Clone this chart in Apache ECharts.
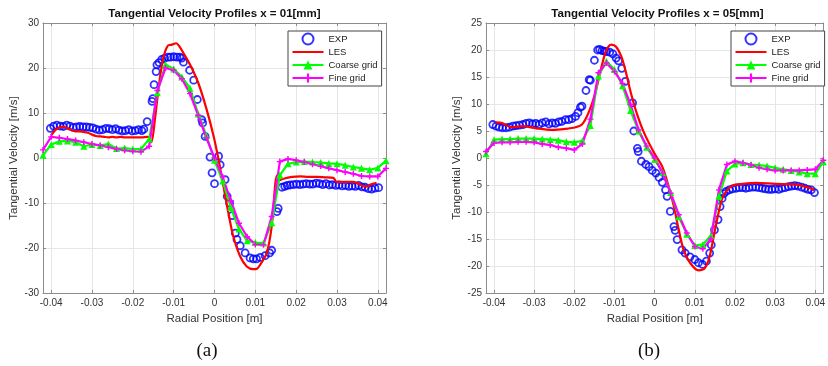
<!DOCTYPE html>
<html>
<head>
<meta charset="utf-8">
<script src="https://cdn.jsdelivr.net/npm/echarts@6/dist/echarts.min.js"></script>
<style>
  html, body { margin: 0; padding: 0; background: #fff; }
  #main { width: 828px; height: 366px; }
</style>
</head>
<body>
<div id="main"></div>
<script>
// x positions of the simulation points (coarse + fine grid), in metres
const gridX = [-0.042, -0.040, -0.038, -0.036, -0.034, -0.032, -0.030, -0.028, -0.026, -0.024, -0.022,
  -0.020, -0.018, -0.016, -0.014, -0.012, -0.010, -0.008, -0.006, -0.004, -0.002, 0.000,
  0.002, 0.004, 0.006, 0.008, 0.010, 0.012, 0.014, 0.016, 0.018, 0.020, 0.022,
  0.024, 0.026, 0.028, 0.030, 0.032, 0.034, 0.036, 0.038, 0.040, 0.042]

// ---- (a) x = 01 mm ----
const coarseA = [0.6, 3.0, 3.7, 3.8, 3.5, 2.6, 3.0, 2.8, 3.1, 2.1, 2.2,
  2.0, 2.0, 4.2, 14.5, 20.8, 19.8, 18.0, 15.5, 9.8, 5.0, -0.5,
  -5.1, -11.0, -15.8, -18.4, -18.8, -18.9, -14.4, -3.8, -1.3, -0.9, -0.8,
  -0.9, -1.0, -1.2, -1.3, -1.6, -2.0, -2.3, -2.6, -2.2, -0.6]
const fineA = [1.8, 4.7, 4.5, 4.2, 3.9, 3.5, 3.1, 2.8, 2.4, 2.0, 1.7,
  1.5, 1.4, 2.6, 15.0, 20.0, 19.5, 17.6, 14.3, 9.5, 4.5, 0.0,
  -4.2, -9.5, -14.5, -17.5, -19.2, -19.3, -13.0, -0.8, -0.2, -0.5, -0.9,
  -1.4, -1.8, -2.3, -2.7, -3.1, -3.5, -4.0, -4.1, -4.1, -2.3]
const lesA = [[-0.0400, 5.0], [-0.0390, 6.2], [-0.0380, 6.8], [-0.0370, 6.9], [-0.0360, 6.6], [-0.0350, 6.2],
  [-0.0340, 5.9], [-0.0330, 5.9], [-0.0320, 5.8], [-0.0310, 5.6], [-0.0300, 5.2], [-0.0290, 4.9],
  [-0.0280, 4.8], [-0.0270, 4.7], [-0.0260, 4.6], [-0.0250, 4.7], [-0.0240, 4.6], [-0.0230, 4.7],
  [-0.0220, 4.6], [-0.0200, 4.6], [-0.0180, 4.6], [-0.0163, 4.7], [-0.0155, 3.5], [-0.0146, 8.5],
  [-0.0137, 15.5], [-0.0126, 22.0], [-0.0114, 25.0], [-0.0104, 25.2], [-0.0094, 25.5], [-0.0086, 24.8],
  [-0.0076, 23.3], [-0.0059, 20.6], [-0.0039, 16.5], [-0.0019, 10.7], [-0.0002, 4.8], [0.0010, -0.4],
  [0.0022, -6.3], [0.0034, -12.2], [0.0046, -17.4], [0.0063, -21.9], [0.0079, -24.1], [0.0095, -24.7],
  [0.0104, -24.6], [0.0112, -23.7], [0.0128, -21.1], [0.0140, -15.2], [0.0149, -5.6], [0.0153, -3.9],
  [0.0158, -5.0], [0.0169, -4.6], [0.0190, -4.2], [0.0210, -4.1], [0.0230, -4.2], [0.0250, -4.2],
  [0.0270, -4.3], [0.0291, -4.4], [0.0299, -5.3], [0.0320, -5.3], [0.0340, -5.3], [0.0355, -5.8],
  [0.0365, -6.3], [0.0375, -6.3], [0.0382, -5.9], [0.0397, -5.5]]
const expA = [[-0.0402, 6.6], [-0.0394, 7.1], [-0.0386, 7.3], [-0.0378, 7.1], [-0.0370, 7.0], [-0.0362, 7.3],
  [-0.0354, 7.1], [-0.0346, 6.8], [-0.0338, 6.9], [-0.0330, 7.0], [-0.0322, 6.9], [-0.0314, 6.9],
  [-0.0306, 6.8], [-0.0298, 6.7], [-0.0290, 6.4], [-0.0282, 6.2], [-0.0274, 6.3], [-0.0266, 6.6],
  [-0.0258, 6.5], [-0.0250, 6.3], [-0.0242, 6.5], [-0.0234, 6.2], [-0.0226, 6.0], [-0.0218, 6.1],
  [-0.0210, 6.3], [-0.0202, 6.0], [-0.0194, 6.1], [-0.0186, 6.3], [-0.0178, 6.1], [-0.0173, 6.4],
  [-0.0165, 8.1], [-0.0153, 12.6], [-0.0151, 13.2], [-0.0148, 16.3], [-0.0143, 19.2], [-0.0141, 20.7],
  [-0.0136, 21.2], [-0.0129, 21.9], [-0.0122, 22.2], [-0.0114, 22.4], [-0.0108, 22.4], [-0.0100, 22.5],
  [-0.0092, 22.4], [-0.0085, 22.4], [-0.0080, 22.2], [-0.0076, 21.3], [-0.0061, 19.5], [-0.0051, 17.3],
  [-0.0042, 13.0], [-0.0031, 8.5], [-0.0029, 7.8], [-0.0023, 4.8], [-0.0011, 0.2], [-0.0006, -3.3],
  [0.0000, -5.7], [0.0010, 0.4], [0.0014, -1.5], [0.0026, -4.8], [0.0031, -8.5], [0.0037, -10.0],
  [0.0043, -12.8], [0.0051, -16.7], [0.0055, -18.1], [0.0063, -19.5], [0.0075, -21.1], [0.0087, -22.2],
  [0.0095, -22.4], [0.0103, -22.4], [0.0112, -22.1], [0.0124, -21.7], [0.0135, -21.1], [0.0140, -20.5],
  [0.0153, -11.9], [0.0156, -11.2], [0.0165, -6.5], [0.0172, -6.3], [0.0178, -6.1], [0.0185, -6.0],
  [0.0193, -5.9], [0.0201, -5.8], [0.0209, -5.9], [0.0217, -5.8], [0.0225, -5.7], [0.0233, -5.8],
  [0.0241, -5.8], [0.0249, -5.6], [0.0257, -5.7], [0.0265, -5.9], [0.0273, -5.7], [0.0281, -6.0],
  [0.0289, -5.9], [0.0297, -6.1], [0.0305, -6.0], [0.0313, -6.2], [0.0321, -6.1], [0.0329, -6.3],
  [0.0337, -6.2], [0.0345, -6.3], [0.0353, -6.1], [0.0361, -6.4], [0.0369, -6.5], [0.0377, -6.8],
  [0.0385, -6.9], [0.0393, -6.7], [0.0402, -6.6]]

// ---- (b) x = 05 mm ----
const coarseB = [0.8, 3.4, 3.5, 3.5, 3.6, 3.6, 3.6, 3.5, 3.4, 3.3, 3.0,
  2.9, 3.2, 6.0, 15.2, 17.9, 16.4, 13.4, 8.8, 5.0, 2.0, -0.3,
  -2.7, -6.4, -10.9, -14.1, -16.2, -16.0, -14.4, -7.1, -2.4, -1.1, -0.9,
  -1.2, -1.3, -1.5, -1.8, -2.1, -2.3, -2.6, -2.9, -2.9, -0.7]
const fineB = [1.2, 2.8, 2.9, 2.9, 3.0, 3.0, 2.9, 2.6, 2.4, 2.0, 1.8,
  1.5, 2.6, 7.2, 15.8, 17.6, 16.0, 13.8, 9.9, 5.2, 2.2, 0.0,
  -2.8, -6.5, -10.5, -13.9, -16.4, -16.8, -15.0, -5.9, -1.2, -0.6, -0.9,
  -1.3, -1.8, -2.1, -2.3, -2.3, -2.3, -2.3, -2.2, -2.1, -0.4]
const lesB = [[-0.0397, 6.6], [-0.0381, 6.5], [-0.0357, 5.7], [-0.0328, 5.9], [-0.0295, 5.5], [-0.0255, 5.2],
  [-0.0222, 5.4], [-0.0197, 5.7], [-0.0181, 6.2], [-0.0165, 8.3], [-0.0148, 12.0], [-0.0132, 17.0],
  [-0.0120, 20.0], [-0.0108, 21.0], [-0.0096, 20.6], [-0.0083, 18.8], [-0.0071, 15.7], [-0.0059, 12.0],
  [-0.0042, 7.7], [-0.0026, 4.6], [-0.0001, 0.9], [0.0019, -1.6], [0.0035, -5.3], [0.0048, -9.0],
  [0.0060, -13.3], [0.0072, -17.0], [0.0088, -19.4], [0.0109, -20.8], [0.0125, -20.4], [0.0137, -18.2],
  [0.0149, -13.8], [0.0166, -8.0], [0.0178, -6.2], [0.0194, -5.1], [0.0219, -4.8], [0.0252, -4.6],
  [0.0300, -4.8], [0.0349, -4.9], [0.0375, -5.3], [0.0398, -5.9]]
const expB = [[-0.0403, 6.2], [-0.0395, 5.9], [-0.0387, 5.7], [-0.0379, 5.6], [-0.0370, 5.6], [-0.0362, 5.7],
  [-0.0353, 5.9], [-0.0345, 6.0], [-0.0337, 6.1], [-0.0328, 6.2], [-0.0320, 6.4], [-0.0312, 6.5],
  [-0.0304, 6.3], [-0.0296, 6.4], [-0.0288, 6.2], [-0.0280, 6.5], [-0.0271, 6.7], [-0.0263, 6.3],
  [-0.0255, 6.5], [-0.0247, 6.4], [-0.0239, 6.7], [-0.0231, 6.8], [-0.0222, 7.1], [-0.0214, 7.1],
  [-0.0206, 7.3], [-0.0197, 7.7], [-0.0191, 8.4], [-0.0185, 9.4], [-0.0181, 9.6], [-0.0171, 12.5],
  [-0.0163, 14.5], [-0.0160, 14.4], [-0.0150, 18.1], [-0.0142, 20.0], [-0.0137, 20.1], [-0.0131, 19.9],
  [-0.0125, 19.8], [-0.0120, 19.7], [-0.0112, 19.6], [-0.0104, 19.3], [-0.0096, 18.5], [-0.0090, 18.0],
  [-0.0082, 16.6], [-0.0073, 14.2], [-0.0055, 10.2], [-0.0052, 5.0], [-0.0043, 1.8], [-0.0041, 1.2],
  [-0.0033, -0.6], [-0.0022, -1.2], [-0.0014, -1.6], [-0.0006, -2.3], [0.0003, -2.8], [0.0011, -3.6],
  [0.0019, -4.5], [0.0027, -5.9], [0.0031, -7.1], [0.0039, -9.9], [0.0048, -12.7], [0.0051, -13.4],
  [0.0056, -15.1], [0.0068, -17.0], [0.0076, -17.6], [0.0088, -18.3], [0.0100, -18.8], [0.0109, -19.4],
  [0.0119, -19.7], [0.0129, -19.1], [0.0137, -17.6], [0.0141, -16.1], [0.0149, -13.3], [0.0158, -11.4],
  [0.0163, -9.0], [0.0168, -7.5], [0.0172, -6.6], [0.0178, -6.2], [0.0186, -5.9], [0.0194, -5.7],
  [0.0203, -5.6], [0.0211, -5.5], [0.0219, -5.5], [0.0227, -5.6], [0.0235, -5.5], [0.0244, -5.4],
  [0.0252, -5.4], [0.0260, -5.5], [0.0268, -5.6], [0.0276, -5.7], [0.0284, -5.8], [0.0292, -5.8],
  [0.0300, -5.7], [0.0309, -5.8], [0.0317, -5.6], [0.0325, -5.5], [0.0333, -5.3], [0.0341, -5.2],
  [0.0349, -5.1], [0.0357, -5.2], [0.0366, -5.4], [0.0374, -5.6], [0.0382, -5.8], [0.0390, -5.9],
  [0.0398, -6.4]]

const names = ['EXP', 'LES', 'Coarse grid', 'Fine grid']
const titles = ['Tangential Velocity Profiles x = 01[mm]', 'Tangential Velocity Profiles x = 05[mm]']
const captions = ['(a)', '(b)']
const yRanges = [[-30, 30, 10], [-25, 25, 5]]

const font = 'Liberation Sans, Arial, Helvetica, sans-serif'
const axisGray = '#8c8c8c'
const plus = 'path://M0,3.8L10,3.8L10,6.2L0,6.2Z M3.8,0L6.2,0L6.2,10L3.8,10Z'

const grids = [
  { left: 43, top: 23, width: 343, height: 270 },
  { left: 486, top: 23, width: 343, height: 270 },
]

const xAxes = []
const yAxes = []
grids.forEach((g, i) => {
  // bottom axis with labels
  xAxes.push({
    gridIndex: i, type: 'value', min: -0.042, max: 0.042, splitNumber: 8,
    name: 'Radial Position [m]', nameLocation: 'middle', nameGap: 20,
    nameTextStyle: { fontSize: 11.5, color: '#333', fontFamily: font },
    axisLine: { show: true, onZero: false, lineStyle: { color: axisGray } },
    axisTick: { show: true, inside: true, length: 3, lineStyle: { color: axisGray } },
    axisLabel: { fontSize: 10, color: '#333', fontFamily: font, margin: 5, showMinLabel: false, showMaxLabel: false },
    splitLine: { show: true, lineStyle: { color: '#e6e6e6' } },
  })
  // top axis: box edge + ticks only
  xAxes.push({
    gridIndex: i, type: 'value', position: 'top', min: -0.042, max: 0.042, splitNumber: 8,
    axisLine: { show: true, onZero: false, lineStyle: { color: axisGray } },
    axisTick: { show: true, inside: true, length: 3, lineStyle: { color: axisGray } },
    axisLabel: { show: false }, splitLine: { show: false },
  })
  const [lo, hi, step] = yRanges[i]
  yAxes.push({
    gridIndex: i, type: 'value', min: lo, max: hi, interval: step,
    name: 'Tangential Velocity [m/s]', nameLocation: 'middle', nameGap: 23,
    nameTextStyle: { fontSize: 11.5, color: '#333', fontFamily: font },
    axisLine: { show: true, onZero: false, lineStyle: { color: axisGray } },
    axisTick: { show: true, inside: true, length: 3, lineStyle: { color: axisGray } },
    axisLabel: { fontSize: 10, color: '#333', fontFamily: font, margin: 4 },
    splitLine: { show: true, lineStyle: { color: '#e6e6e6' } },
  })
  yAxes.push({
    gridIndex: i, type: 'value', position: 'right', min: lo, max: hi, interval: step,
    axisLine: { show: true, onZero: false, lineStyle: { color: axisGray } },
    axisTick: { show: true, inside: true, length: 3, lineStyle: { color: axisGray } },
    axisLabel: { show: false }, splitLine: { show: false },
  })
})

const sets = [
  { exp: expA, les: lesA, coarse: coarseA, fine: fineA },
  { exp: expB, les: lesB, coarse: coarseB, fine: fineB },
]

const series = []
sets.forEach((s, i) => {
  const xi = i * 2
  const yi = i * 2
  series.push({
    name: 'EXP', type: 'scatter', xAxisIndex: xi, yAxisIndex: yi,
    symbol: 'circle', symbolSize: 7,
    itemStyle: { color: 'rgba(255,255,255,0)', borderColor: '#0000ff', borderWidth: 1.8 },
    data: s.exp,
  })
  series.push({
    name: 'LES', type: 'line', xAxisIndex: xi, yAxisIndex: yi,
    showSymbol: false, symbol: 'none', smooth: 0.3,
    itemStyle: { color: '#ff0000' },
    lineStyle: { color: '#ff0000', width: 2.2 },
    data: s.les,
  })
  series.push({
    name: 'Coarse grid', type: 'line', xAxisIndex: xi, yAxisIndex: yi,
    symbol: 'triangle', symbolSize: 7, showAllSymbol: true,
    itemStyle: { color: '#00ff00' },
    lineStyle: { color: '#00ff00', width: 2.2 },
    data: gridX.map((x, k) => [x, s.coarse[k]]),
  })
  series.push({
    name: 'Fine grid', type: 'line', xAxisIndex: xi, yAxisIndex: yi,
    symbol: plus, symbolSize: 6, showAllSymbol: true,
    itemStyle: { color: '#ff00ff' },
    lineStyle: { color: '#ff00ff', width: 2.2 },
    data: gridX.map((x, k) => [x, s.fine[k]]),
  })
})

const legendData = names.map((n) => (n === 'LES' ? { name: n, itemStyle: { opacity: 0 } } : n))

const legendBase = {
  orient: 'vertical', top: 31, itemWidth: 31, itemHeight: 11, itemGap: 0, itemTextGap: 3,
  padding: [1.5, 4, 1.5, 3.5], borderColor: '#444', borderWidth: 1, backgroundColor: '#fff',
  textStyle: { fontSize: 9.5, lineHeight: 13, color: '#222', fontFamily: font },
  selectedMode: false, data: legendData,
}

const chart = echarts.init(document.getElementById('main'))
chart.setOption({
  animation: false,
  backgroundColor: '#fff',
  title: [
    { text: titles[0], left: 214.5, top: 8, textAlign: 'center', padding: 0,
      textStyle: { fontSize: 11.5, fontWeight: 'bold', color: '#111', fontFamily: font } },
    { text: titles[1], left: 657.5, top: 8, textAlign: 'center', padding: 0,
      textStyle: { fontSize: 11.5, fontWeight: 'bold', color: '#111', fontFamily: font } },
    { text: captions[0], left: 207, top: 342, textAlign: 'center', padding: 0,
      textStyle: { fontSize: 19, fontWeight: 'normal', color: '#111', fontFamily: 'Liberation Serif, Times New Roman, serif' } },
    { text: captions[1], left: 649, top: 342, textAlign: 'center', padding: 0,
      textStyle: { fontSize: 19, fontWeight: 'normal', color: '#111', fontFamily: 'Liberation Serif, Times New Roman, serif' } },
  ],
  legend: [
    Object.assign({}, legendBase, { left: 288 }),
    Object.assign({}, legendBase, { left: 731 }),
  ],
  grid: grids,
  xAxis: xAxes,
  yAxis: yAxes,
  series: series,
})
</script>
</body>
</html>
